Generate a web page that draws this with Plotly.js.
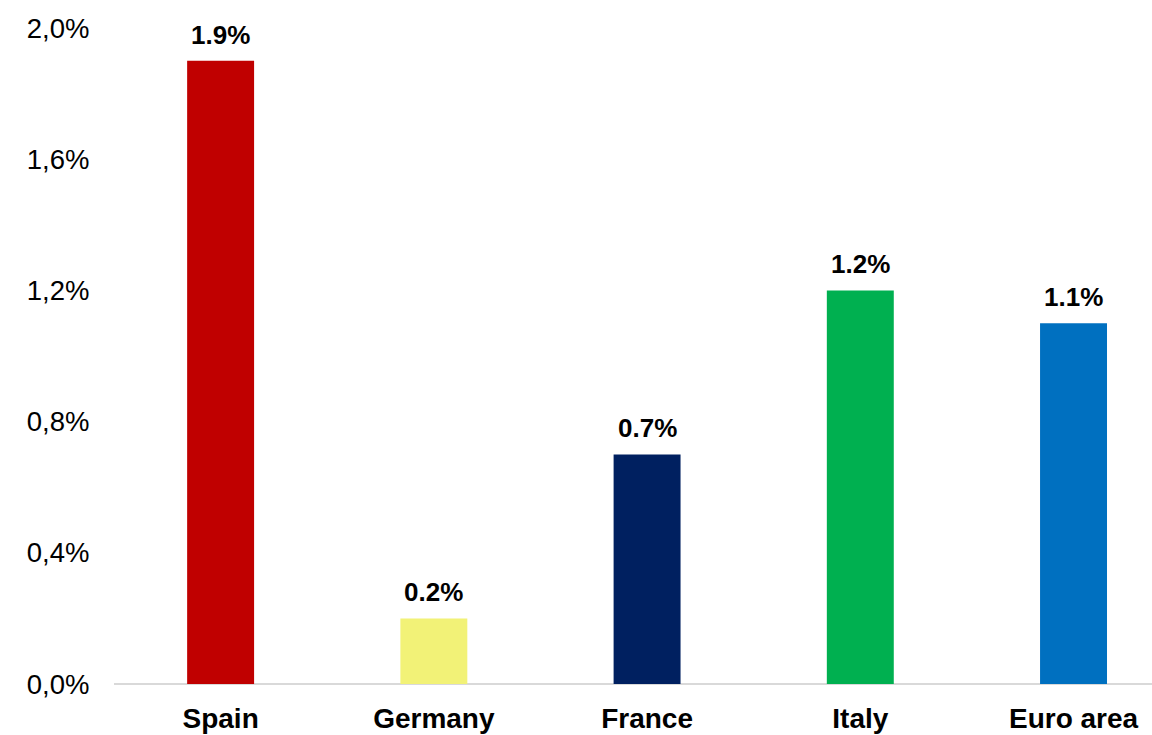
<!DOCTYPE html>
<html>
<head>
<meta charset="utf-8">
<script src="https://cdn.plot.ly/plotly-3.0.1.min.js"></script>
<style>html,body{margin:0;padding:0;background:#fff;}#chart{width:1152px;height:735px;}</style>
</head>
<body>
<div id="chart"></div>
<script>
var categories = ["Spain", "Germany", "France", "Italy", "Euro area"];
var values = [1.9, 0.2, 0.7, 1.2, 1.1];
var labels = ["1.9%", "0.2%", "0.7%", "1.2%", "1.1%"];
var colors = ["#C00000", "#F2F277", "#002060", "#00B050", "#0070C0"];
var yTickVals = [0, 0.4, 0.8, 1.2, 1.6, 2.0];
var yTickText = ["0,0%", "0,4%", "0,8%", "1,2%", "1,6%", "2,0%"];

var trace = {
  type: "bar",
  x: categories,
  y: values,
  marker: {color: colors, line: {width: 0}},
  width: 0.314,
  hoverinfo: "none"
};

var annotations = categories.map(function (c, i) {
  return {
    x: c, y: values[i], xref: "x", yref: "y",
    text: "<b>" + labels[i] + "</b>", showarrow: false,
    yanchor: "bottom", yshift: 9,
    font: {family: "Liberation Sans, Arial, sans-serif", size: 26, color: "#000", weight: "bold"}
  };
});

var layout = {
  width: 1152, height: 735,
  margin: {l: 114, r: 0, t: 28, b: 51},
  paper_bgcolor: "#fff", plot_bgcolor: "#fff",
  showlegend: false,
  font: {family: "Liberation Sans, Arial, sans-serif", color: "#000"},
  xaxis: {
    range: [-0.5, 4.368],
    showgrid: false, zeroline: false,
    showline: false,
    ticks: "outside", ticklen: 9, tickcolor: "rgba(0,0,0,0)",
    tickfont: {size: 28, family: "Liberation Sans, Arial, sans-serif", color: "#000", weight: "bold"},
    fixedrange: true
  },
  yaxis: {
    range: [0, 2.0],
    tickvals: yTickVals, ticktext: yTickText,
    showgrid: false,
    zeroline: true, zerolinecolor: "#D9D9D9", zerolinewidth: 2,
    showline: false,
    ticks: "outside", ticklen: 18, tickcolor: "rgba(0,0,0,0)",
    tickfont: {size: 27.5, family: "Liberation Sans, Arial, sans-serif", color: "#000"},
    fixedrange: true
  },
  annotations: annotations
};

Plotly.newPlot("chart", [trace], layout, {displayModeBar: false, staticPlot: true});
</script>
</body>
</html>
